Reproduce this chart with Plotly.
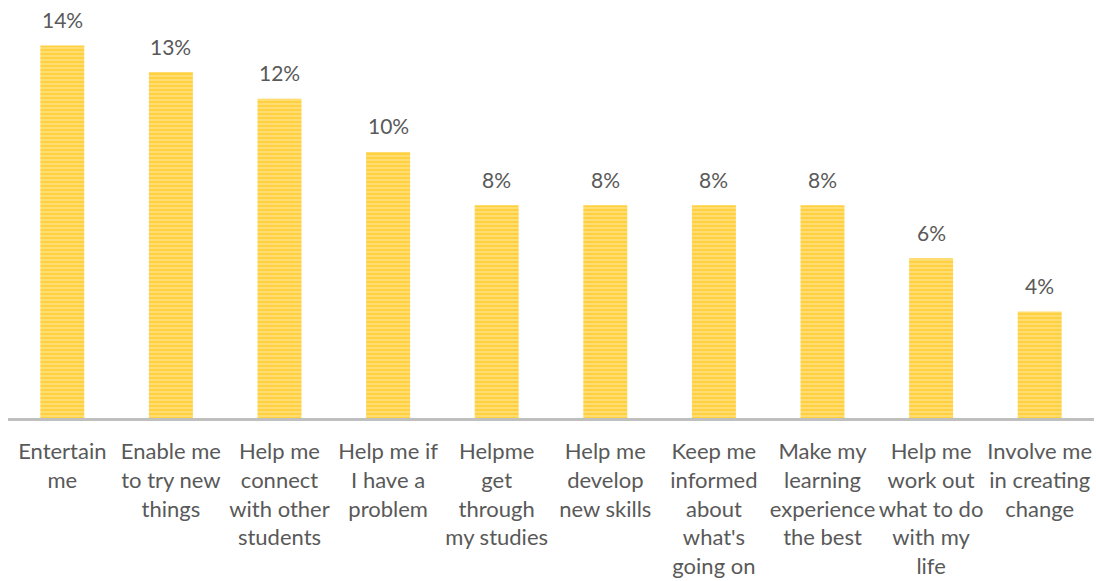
import plotly.graph_objects as go

categories = ["Entertain<br>me", "Enable me<br>to try new<br>things", "Help me<br>connect<br>with other<br>students",
              "Help me if<br>I have a<br>problem", "Helpme<br>get<br>through<br>my studies", "Help me<br>develop<br>new skills",
              "Keep me<br>informed<br>about<br>what's<br>going on", "Make my<br>learning<br>experience<br>the best",
              "Help me<br>work out<br>what to do<br>with my<br>life", "Involve me<br>in creating<br>change"]
values = [14, 13, 12, 10, 8, 8, 8, 8, 6, 4]
labels = [f"{v}%" for v in values]

xs = list(range(len(categories)))
fig = go.Figure(go.Bar(
    x=xs, y=values,
    width=0.405,
    marker=dict(color="#FFDB70", line=dict(width=0),
                pattern=dict(shape="-", fgcolor="#FFC000", bgcolor="#FFE080", size=4, solidity=0.6)),
))
for xi, v, lab in zip(xs, values, labels):
    fig.add_annotation(x=xi, y=v, text=lab, showarrow=False, yanchor="middle", yshift=26,
                       font=dict(size=21, color="#595959", family="Lato"))
fig.update_layout(
    width=1096, height=581, margin=dict(l=8, r=2, t=0, b=163),
    plot_bgcolor="white", paper_bgcolor="white", showlegend=False,
    font=dict(family="Lato", size=22, color="#595959"),
    bargap=0.6,
)
fig.update_xaxes(tickmode="array", tickvals=xs, ticktext=categories,
                 showline=True, linecolor="#BFBFBF", linewidth=3, ticks="", showgrid=False,
                 range=[-0.5, 9.5], tickangle=0, tickfont=dict(size=22, color="#595959"),
                 ticklabelstandoff=12)
fig.update_yaxes(range=[0, 15.71], visible=False, showgrid=False)
fig.write_html("out.html")
